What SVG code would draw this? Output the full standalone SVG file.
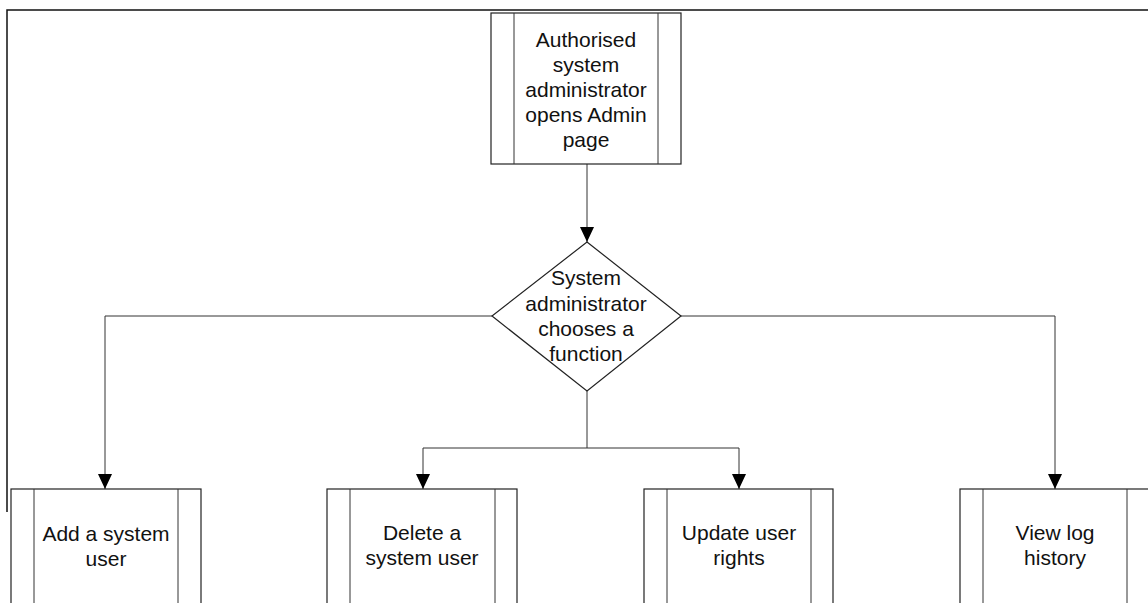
<svg xmlns="http://www.w3.org/2000/svg" width="1148" height="603" viewBox="0 0 1148 603">
  <style>
    .frame { fill: none; stroke: #111; stroke-width: 1.5; }
    .box { fill: #fff; stroke: #222; stroke-width: 1.2; }
    .bar { stroke: #333; stroke-width: 1; }
    .link { fill: none; stroke: #333; stroke-width: 1; }
    .label { font-family: "Liberation Sans", Arial, sans-serif; font-size: 21px; fill: #111; text-anchor: middle; }
  </style>
  <defs>
    <!-- filled triangular arrowhead, tip at the end of the line -->
    <marker id="arrow" markerWidth="15" markerHeight="14" refX="15" refY="7" orient="auto" markerUnits="userSpaceOnUse" viewBox="0 0 15 14">
      <path d="M0,0 L15,7 L0,14 Z" fill="#000"/>
    </marker>
  </defs>

  <rect width="1148" height="603" fill="#fff"/>

  <!-- outer frame -->
  <path class="frame" d="M7,512 L7,10 L1148,10"/>

  <!-- connectors -->
  <g id="connectors">
    <line class="link" x1="587" y1="164" x2="587" y2="242" marker-end="url(#arrow)"/>
    <path class="link" d="M492,316 L105,316 L105,489" marker-end="url(#arrow)"/>
    <path class="link" d="M681,316 L1055,316 L1055,489" marker-end="url(#arrow)"/>
    <line class="link" x1="587" y1="391" x2="587" y2="448"/>
    <path class="link" d="M587,448 L423,448 L423,489" marker-end="url(#arrow)"/>
    <path class="link" d="M587,448 L739,448 L739,489" marker-end="url(#arrow)"/>
  </g>

  <!-- start: admin opens page -->
  <g id="open-admin">
    <rect class="box" x="491" y="13" width="190" height="151"/>
    <line class="bar" x1="514" y1="13" x2="514" y2="164"/>
    <line class="bar" x1="658" y1="13" x2="658" y2="164"/>
    <text class="label" x="586" y="47">Authorised</text>
    <text class="label" x="586" y="72">system</text>
    <text class="label" x="586" y="97">administrator</text>
    <text class="label" x="586" y="122">opens Admin</text>
    <text class="label" x="586" y="147">page</text>
  </g>

  <!-- decision -->
  <g id="choose-function">
    <polygon class="box" points="587,242 681,316 587,391 492,316"/>
    <text class="label" x="586" y="285">System</text>
    <text class="label" x="586" y="311">administrator</text>
    <text class="label" x="586" y="336">chooses a</text>
    <text class="label" x="586" y="361">function</text>
  </g>

  <!-- admin functions -->
  <g id="add-user">
    <rect class="box" x="11" y="489" width="190" height="120"/>
    <line class="bar" x1="34" y1="489" x2="34" y2="609"/>
    <line class="bar" x1="178" y1="489" x2="178" y2="609"/>
    <text class="label" x="106" y="541">Add a system</text>
    <text class="label" x="106" y="566">user</text>
  </g>

  <g id="delete-user">
    <rect class="box" x="327" y="489" width="190" height="120"/>
    <line class="bar" x1="350" y1="489" x2="350" y2="609"/>
    <line class="bar" x1="495" y1="489" x2="495" y2="609"/>
    <text class="label" x="422" y="540">Delete a</text>
    <text class="label" x="422" y="565">system user</text>
  </g>

  <g id="update-rights">
    <rect class="box" x="644" y="489" width="189" height="120"/>
    <line class="bar" x1="667" y1="489" x2="667" y2="609"/>
    <line class="bar" x1="811" y1="489" x2="811" y2="609"/>
    <text class="label" x="739" y="540">Update user</text>
    <text class="label" x="739" y="565">rights</text>
  </g>

  <g id="view-log">
    <rect class="box" x="960" y="489" width="192" height="120"/>
    <line class="bar" x1="983" y1="489" x2="983" y2="609"/>
    <line class="bar" x1="1127" y1="489" x2="1127" y2="609"/>
    <text class="label" x="1055" y="540">View log</text>
    <text class="label" x="1055" y="565">history</text>
  </g>
</svg>
